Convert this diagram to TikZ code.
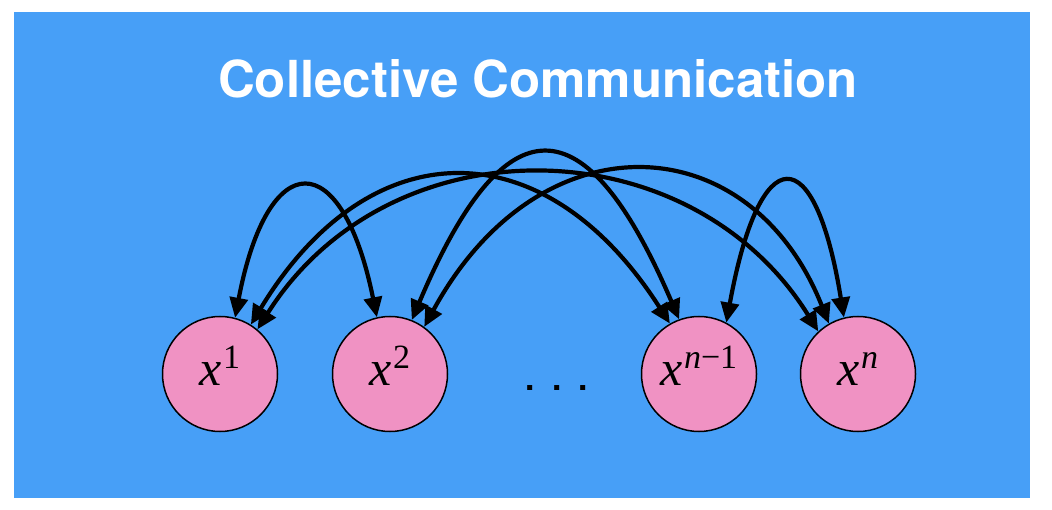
\documentclass[tikz,border=0pt]{standalone}
\usepackage{fontspec}
\newfontfamily\titlefont{TeX Gyre Heros}
\newfontfamily\labfont{Liberation Serif}
\usetikzlibrary{arrows.meta}
\definecolor{bgblue}{RGB}{71,159,247}
\definecolor{nodepink}{RGB}{240,146,195}
\newcommand\procsup[1]{{\itshape x}\kern1pt\raisebox{17pt}{\fontsize{34}{36}\selectfont #1}}
\begin{document}
\begin{tikzpicture}[x=1pt,y=-1pt,
  proc/.style={circle, draw=black, line width=1.5pt, fill=nodepink, minimum size=115pt, inner sep=0pt,
    font=\labfont\fontsize{50}{54}\selectfont, text height=22pt, text depth=0pt},
  link/.style={{Triangle[length=20pt,width=18pt]}-{Triangle[length=20pt,width=18pt]}, line width=4.2pt}]
\useasboundingbox (0,0) rectangle (1052,510);
\fill[white] (0,0) rectangle (1052,510);
\node[fill=bgblue, minimum width=1016pt, minimum height=486pt, anchor=north west, inner sep=0pt, outer sep=0pt] (bg) at (14,12) {};
\node[anchor=base, text=white, inner sep=0pt, font=\titlefont\bfseries\fontsize{51}{56}\selectfont] (title) at (538,98) {Collective Communication};
\node[proc] (p1) at (220,374) {\procsup{1}};
\node[proc] (p2) at (390,374) {\procsup{2}};
\node[proc] (pn1) at (699,374) {\procsup{{\itshape n}−1}};
\node[proc] (pn) at (858,374) {\procsup{{\itshape n}}};
\node[anchor=base, inner sep=0pt, font=\titlefont\fontsize{48}{52}\selectfont] (dots) at (557,391) {\frenchspacing . . .};
\draw[link] (p1.75) .. controls (268,145) and (342,145) .. (p2.103);
\draw[link] (p1.58) .. controls (370,128) and (545,128) .. (pn1.120);
\draw[link] (p1.50) .. controls (390,120) and (690,125) .. (pn.133);
\draw[link] (p2.68) .. controls (505,100) and (585,100) .. (pn1.110);
\draw[link] (p2.54) .. controls (540,115) and (750,125) .. (pn.120);
\draw[link] (pn1.62) .. controls (760,138) and (815,138) .. (pn.104);
\end{tikzpicture}
\end{document}
